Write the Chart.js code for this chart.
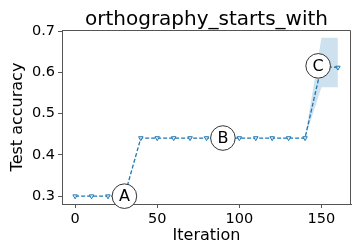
<!DOCTYPE html>
<html>
<head>
<meta charset="utf-8">
<script src="https://cdn.jsdelivr.net/npm/chart.js@4/dist/chart.umd.min.js"></script>
<style>
  html, body { margin: 0; padding: 0; background: #fff; }
  #wrap { width: 356px; height: 246px; }
</style>
</head>
<body>
<div id="wrap"><canvas id="acc-chart" width="356" height="246"></canvas></div>
<script>
/* data */
const iterations = [0, 10, 20, 30, 40, 50, 60, 70, 80, 90, 100, 110, 120, 130, 140, 150, 160];
const accuracy   = [0.30, 0.30, 0.30, 0.30, 0.441, 0.441, 0.441, 0.441, 0.441, 0.441, 0.441, 0.441, 0.441, 0.441, 0.441, 0.615, 0.612];
const bandLower  = [0.30, 0.30, 0.30, 0.30, 0.441, 0.441, 0.441, 0.441, 0.441, 0.441, 0.441, 0.441, 0.441, 0.441, 0.441, 0.564, 0.564];
const bandUpper  = [0.30, 0.30, 0.30, 0.30, 0.441, 0.441, 0.441, 0.441, 0.441, 0.441, 0.441, 0.441, 0.441, 0.441, 0.441, 0.684, 0.684];
const xTicks = [0, 50, 100, 150];
const yTicks = [0.3, 0.4, 0.5, 0.6, 0.7];
const markLabels = ["A", "B", "C"];
const markX = [30, 90, 148];
const markY = [0.30, 0.441, 0.616];
const titleText = "orthography_starts_with";

const FONT = "'DejaVu Sans', sans-serif";
const BLUE = "#1f77b4";

function pts(ys){
  return iterations.map((x, i) => ({x: x, y: ys[i]}));
}

/* title centred over the plot area, plus top/right spines */
const framePlugin = {
  id: "frame",
  afterDraw(chart){
    const ctx = chart.ctx, a = chart.chartArea;
    ctx.save();
    ctx.strokeStyle = "#555";
    ctx.lineWidth = 1;
    ctx.beginPath();
    ctx.moveTo(a.left, a.top + 0.5);
    ctx.lineTo(a.right - 0.5, a.top + 0.5);
    ctx.lineTo(a.right - 0.5, a.bottom);
    ctx.stroke();
    ctx.fillStyle = "#000";
    ctx.font = "20px " + FONT;
    ctx.textAlign = "center";
    ctx.textBaseline = "alphabetic";
    ctx.fillText(titleText, (a.left + a.right) / 2, 25);
    ctx.restore();
  }
};

/* circled letters A, B, C */
const markPlugin = {
  id: "marks",
  afterDatasetsDraw(chart){
    const ctx = chart.ctx;
    const xs = chart.scales.x, ys = chart.scales.y;
    ctx.save();
    for (let i = 0; i < markLabels.length; i++){
      const px = xs.getPixelForValue(markX[i]);
      const py = ys.getPixelForValue(markY[i]);
      ctx.beginPath();
      ctx.arc(px, py, 12.3, 0, Math.PI * 2);
      ctx.fillStyle = "#fff";
      ctx.fill();
      ctx.lineWidth = 1;
      ctx.strokeStyle = "#333";
      ctx.stroke();
      ctx.fillStyle = "#000";
      ctx.font = "16px " + FONT;
      ctx.textAlign = "center";
      ctx.textBaseline = "middle";
      ctx.fillText(markLabels[i], px, py + 1);
    }
    ctx.restore();
  }
};

new Chart(document.getElementById("acc-chart"), {
  type: "line",
  data: {
    datasets: [{
        data: pts(bandLower),
        borderWidth: 0,
        pointRadius: 0,
        fill: false
      }, {
        data: pts(bandUpper),
        borderWidth: 0,
        pointRadius: 0,
        backgroundColor: "rgba(31,119,180,0.22)",
        fill: "-1"
      }, {
        data: pts(accuracy),
        borderColor: BLUE,
        borderWidth: 1.3,
        borderDash: [4, 2],
        pointStyle: "triangle",
        rotation: 180,
        pointRadius: 2.6,
        pointBorderWidth: 1,
        pointBorderColor: BLUE,
        pointBackgroundColor: "rgba(255,255,255,0.7)",
        fill: false
      }
    ]
  },
  options: {
    responsive: false,
    animation: false,
    devicePixelRatio: 1,
    layout: { padding: { left: 0, right: 1, top: 30, bottom: 0 } },
    plugins: {
      legend: { display: false },
      tooltip: { enabled: false }
    },
    scales: {
      x: {
        type: "linear",
        min: -8,
        max: 168,
        afterBuildTicks: s => { s.ticks = xTicks.map(v => ({value: v})); },
        afterFit: s => { s.height = 42; },
        grid: { display: true, drawOnChartArea: false, drawTicks: true, tickLength: 4, color: "#555" },
        border: { display: true, color: "#555", width: 1 },
        ticks: { color: "#000", padding: 3, maxRotation: 0, font: { family: FONT, size: 14.5 } },
        title: { display: true, text: "Iteration", color: "#000", padding: { top: 0, bottom: 1 }, font: { family: FONT, size: 16 } }
      },
      y: {
        min: 0.281,
        max: 0.703,
        afterBuildTicks: s => { s.ticks = yTicks.map(v => ({value: v})); },
        afterFit: s => { s.width = 62; },
        grid: { display: true, drawOnChartArea: false, drawTicks: true, tickLength: 4, color: "#555" },
        border: { display: true, color: "#555", width: 1 },
        ticks: { color: "#000", padding: 3, font: { family: FONT, size: 14.5 }, callback: v => v.toFixed(1) },
        title: { display: true, text: "Test accuracy", color: "#000", padding: { top: 8, bottom: 0 }, font: { family: FONT, size: 16 } }
      }
    }
  },
  plugins: [framePlugin, markPlugin]
});
</script>
</body>
</html>
